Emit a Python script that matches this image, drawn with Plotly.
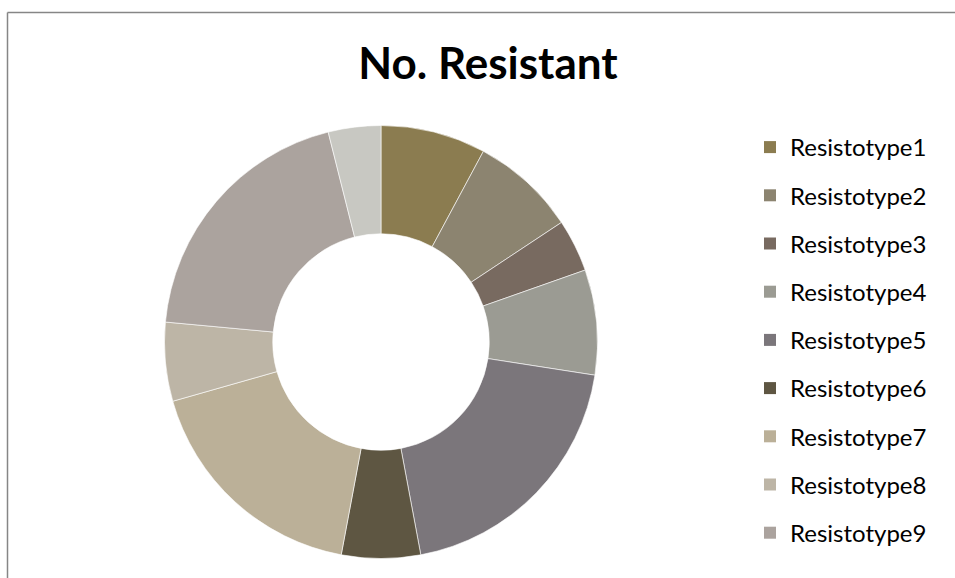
import plotly.graph_objects as go

labels = ["Resistotype1", "Resistotype2", "Resistotype3", "Resistotype4", "Resistotype5",
          "Resistotype6", "Resistotype7", "Resistotype8", "Resistotype9", "Resistotype10"]
values = [4, 4, 2, 4, 10, 3, 9, 3, 10, 2]
colors = ["#8B7C50", "#8C8470", "#786A60", "#9B9B93", "#7B767B",
          "#5E5642", "#BBB098", "#BDB5A6", "#ABA39E", "#C8C8C2"]
legend_count = 9  # entries visible in the cropped original

W, H = 955, 578
cx, cy, R = 381, 342, 216.5

fig = go.Figure()
fig.add_trace(go.Pie(
    labels=labels, values=values, hole=0.5, sort=False, direction="clockwise", rotation=0,
    marker=dict(colors=colors, line=dict(color="white", width=0.6)),
    textinfo="none", hoverinfo="label+value", showlegend=False,
    domain=dict(x=[(cx - R) / W, (cx + R) / W], y=[(H - cy - R) / H, (H - cy + R) / H]),
))
for i in range(legend_count):
    fig.add_trace(go.Scatter(
        x=[None], y=[None], mode="markers", name=labels[i], legendgroup=labels[i],
        marker=dict(symbol="square", size=12, color=colors[i]),
    ))

fig.update_layout(
    width=W, height=H, margin=dict(l=0, r=0, t=0, b=0),
    paper_bgcolor="white", plot_bgcolor="white",
    xaxis=dict(visible=False), yaxis=dict(visible=False),
    title=dict(text="<b>No. Resistant</b>", x=488 / W, xanchor="center", y=1 - 64 / H, yanchor="middle",
               font=dict(family="Lato", size=44, color="black")),
    legend=dict(x=750 / W, y=1 - 125 / H, xanchor="left", yanchor="top",
                font=dict(family="Lato", size=24, color="black"),
                tracegroupgap=14, itemwidth=30, bgcolor="rgba(0,0,0,0)"),
    shapes=[
        dict(type="line", xref="paper", yref="paper", x0=7.5 / W, x1=1, y0=1 - 12.5 / H, y1=1 - 12.5 / H,
             line=dict(color="#868686", width=1.5)),
        dict(type="line", xref="paper", yref="paper", x0=7.5 / W, x1=7.5 / W, y0=1 - 12.5 / H, y1=0,
             line=dict(color="#868686", width=1.5)),
    ],
)
fig.write_html("out.html")
